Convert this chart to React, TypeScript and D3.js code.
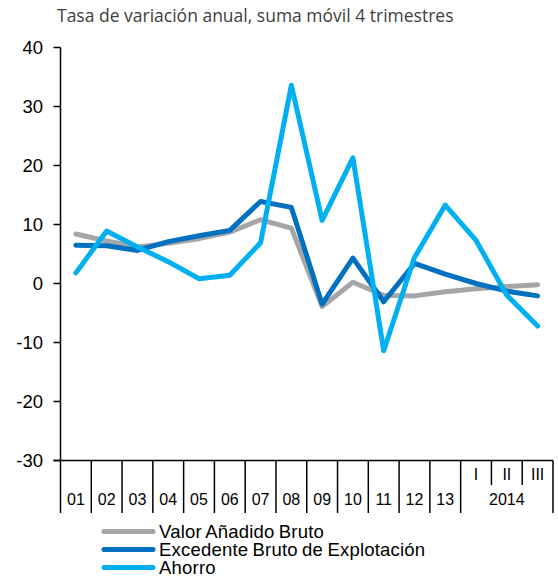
import React from "react";
import * as d3 from "d3";

const categories = ["01","02","03","04","05","06","07","08","09","10","11","12","13","I","II","III"];
const yearLabels = ["01","02","03","04","05","06","07","08","09","10","11","12","13"];
const quarterLabels = ["I","II","III"];
const groupLabel = "2014";
const vab = [8.4, 7.2, 6.2, 6.8, 7.6, 8.7, 10.8, 9.4, -3.9, 0.2, -2.0, -2.1, -1.4, -0.9, -0.5, -0.2];
const ebe = [6.5, 6.4, 5.6, 7.1, 8.1, 9.0, 13.9, 12.9, -3.5, 4.3, -3.1, 3.4, 1.6, 0.0, -1.3, -2.1];
const ahorro = [1.8, 8.9, 6.2, 3.7, 0.8, 1.4, 6.9, 33.6, 10.7, 21.3, -11.4, 4.4, 13.3, 7.3, -2.0, -7.2];
const yTicks = [40, 30, 20, 10, 0, -10, -20, -30];
const seriesNames = ["Valor Añadido Bruto", "Excedente Bruto de Explotación", "Ahorro"];
const colors = ["#a6a6a6", "#0070c0", "#00b0f0"];
const title = "Tasa de variación anual, suma móvil 4 trimestres";

export default function App() {
  const W = 558, H = 580;
  const left = 60.5, right = 553, top = 47.5, bottom = 460.5;
  const x = d3.scaleBand<string>().domain(categories).range([left, right]);
  const y = d3.scaleLinear().domain([-30, 40]).range([bottom, top]);
  const line = d3.line<number>()
    .x((_, i) => (x(categories[i]) as number) + x.bandwidth() / 2)
    .y((d) => y(d));
  const series = [vab, ebe, ahorro];
  const font = "'Liberation Sans', Arial, sans-serif";
  const bw = x.bandwidth();
  const qStart = x("I") as number;
  return (
    <svg width={W} height={H} style={{ position: "absolute", left: 0, top: 0 }}>
      <rect width={W} height={H} fill="#fff" />
      <text x={57} y={22} fontFamily="'Open Sans', sans-serif" fontSize={17.5} fill="#404040">{title}</text>
      {/* y axis */}
      <line x1={left} x2={left} y1={top} y2={bottom} stroke="#000" strokeWidth={1.5} />
      {yTicks.map((t) => (
        <g key={t}>
          <line x1={left - 7} x2={left} y1={y(t)} y2={y(t)} stroke="#000" strokeWidth={1.5} />
          <text x={43} y={y(t) + 6.5} textAnchor="end" fontFamily={font} fontSize={18.5} fill="#000">{t}</text>
        </g>
      ))}
      {/* x axis */}
      <line x1={left - 7} x2={right} y1={bottom} y2={bottom} stroke="#000" strokeWidth={1.5} />
      {yearLabels.map((c) => {
        const x0 = x(c) as number;
        return (
          <g key={c}>
            <line x1={x0} x2={x0} y1={bottom} y2={513} stroke="#000" strokeWidth={1.5} />
            <text x={x0 + bw / 2} y={505} textAnchor="middle" fontFamily={font} fontSize={16} fill="#000">{c}</text>
          </g>
        );
      })}
      <line x1={qStart} x2={qStart} y1={bottom} y2={513} stroke="#000" strokeWidth={1.5} />
      <line x1={right} x2={right} y1={bottom} y2={513} stroke="#000" strokeWidth={1.5} />
      {quarterLabels.map((q, i) => {
        const x0 = x(q) as number;
        return (
          <g key={q}>
            {i > 0 && <line x1={x0} x2={x0} y1={bottom} y2={485} stroke="#000" strokeWidth={1.5} />}
            <text x={x0 + bw / 2} y={480} textAnchor="middle" fontFamily={font} fontSize={16} fill="#000">{q}</text>
          </g>
        );
      })}
      <text x={(qStart + right) / 2} y={505} textAnchor="middle" fontFamily={font} fontSize={16} fill="#000">{groupLabel}</text>
      {/* lines */}
      {series.map((s, i) => (
        <path key={i} d={line(s) || ""} fill="none" stroke={colors[i]} strokeWidth={5} strokeLinejoin="round" strokeLinecap="round" />
      ))}
      {/* legend */}
      {seriesNames.map((n, i) => {
        const ly = 531.5 + i * 18;
        return (
          <g key={n}>
            <line x1={104} x2={153} y1={ly} y2={ly} stroke={colors[i]} strokeWidth={5} strokeLinecap="round" />
            <text x={159} y={ly + 6.5} fontFamily={font} fontSize={18.5} fill="#000" wordSpacing={-1} letterSpacing={0.2}>{n}</text>
          </g>
        );
      })}
    </svg>
  );
}
